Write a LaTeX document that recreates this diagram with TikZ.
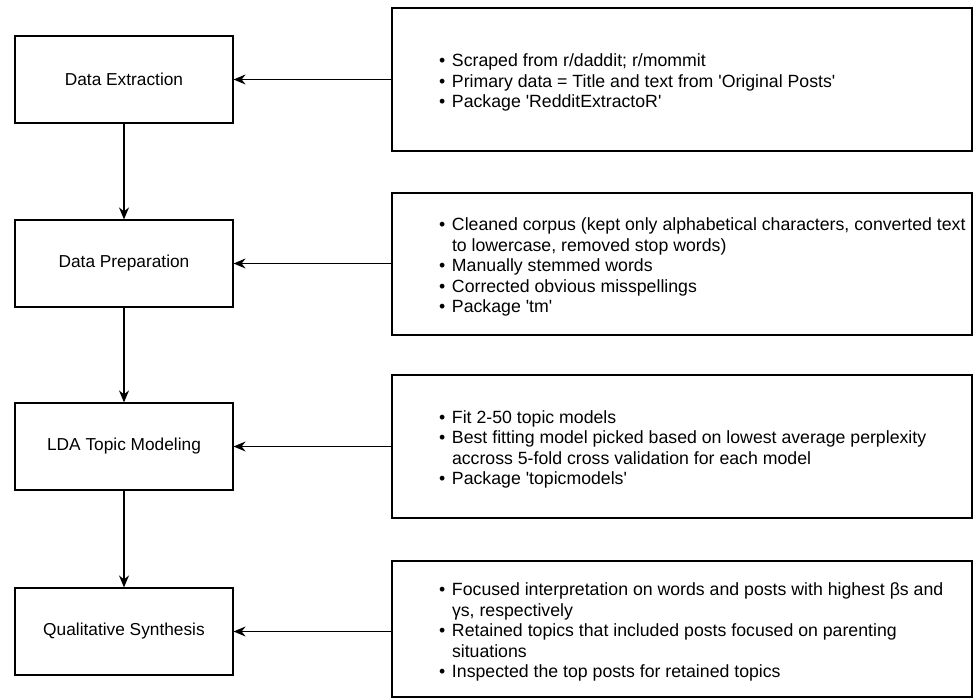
\documentclass[tikz,border=0pt]{standalone}
\usepackage{fontspec}
\setmainfont{Liberation Sans}
\usetikzlibrary{arrows.meta,positioning}
\newcommand\bitem[1]{\par\hangindent=13pt\hangafter=1\noindent\makebox[13pt][l]{\textbullet}#1}
\newcommand\notes[1]{\hspace*{47pt}\parbox{540pt}{\vspace*{6pt}\raggedright\fontsize{17.7}{20.5}\selectfont#1}\hspace*{-7pt}}
\newcommand\q{\textquotesingle}
\begin{document}
\begin{tikzpicture}[x=1pt,y=-1pt,
    stage/.style={draw,line width=1.2pt,minimum width=218pt,minimum height=87pt,font=\fontsize{17.3}{20.5}\selectfont},
    info/.style={draw,line width=1.2pt,inner sep=0pt},
    link/.style={line width=1.2pt,-{Stealth[length=12pt,width=10pt,inset=4pt]}}]
        \useasboundingbox (0,0) rectangle (975,700);
        \node[stage] (extract) at (124,79.5) {Data Extraction};
        \node[stage] (prep) at (124,263.5) {Data Preparation};
        \node[stage] (lda) at (124,446.5) {LDA Topic Modeling};
        \node[stage] (synth) at (124,631.5) {Qualitative Synthesis};
        \node[info,minimum height=143pt] (extractinfo) at (682,79.5) {\notes{%
            \bitem{Scraped from r/daddit; r/mommit}
            \bitem{Primary data = Title and text from \q Original Posts\q}
            \bitem{Package \q RedditExtractoR\q}}};
        \node[info,minimum height=142pt] (prepinfo) at (682,264) {\notes{%
            \bitem{Cleaned corpus (kept only alphabetical characters, converted text\newline to lowercase, removed stop words)}
            \bitem{Manually stemmed words}
            \bitem{Corrected obvious misspellings}
            \bitem{Package \q tm\q}}};
        \node[info,minimum height=143pt] (ldainfo) at (682,446.5) {\notes{%
            \bitem{Fit 2-50 topic models}
            \bitem{Best fitting model picked based on lowest average perplexity\newline accross 5-fold cross validation for each model}
            \bitem{Package \q topicmodels\q}}};
        \node[info,minimum height=136pt] (synthinfo) at (682,629) {\notes{%
            \bitem{Focused interpretation on words and posts with highest βs and\newline γs, respectively}
            \bitem{Retained topics that included posts focused on parenting\newline situations}
            \bitem{Inspected the top posts for retained topics}}};
        \draw[link] (extractinfo.west |- extract.east) -- (extract.east);
        \draw[link] (prepinfo.west |- prep.east) -- (prep.east);
        \draw[link] (ldainfo.west |- lda.east) -- (lda.east);
        \draw[link] (synthinfo.west |- synth.east) -- (synth.east);
        \draw[link] (extract.south) -- (prep.north);
        \draw[link] (prep.south) -- (lda.north);
        \draw[link] (lda.south) -- (synth.north);
      \end{tikzpicture}
\end{document}
